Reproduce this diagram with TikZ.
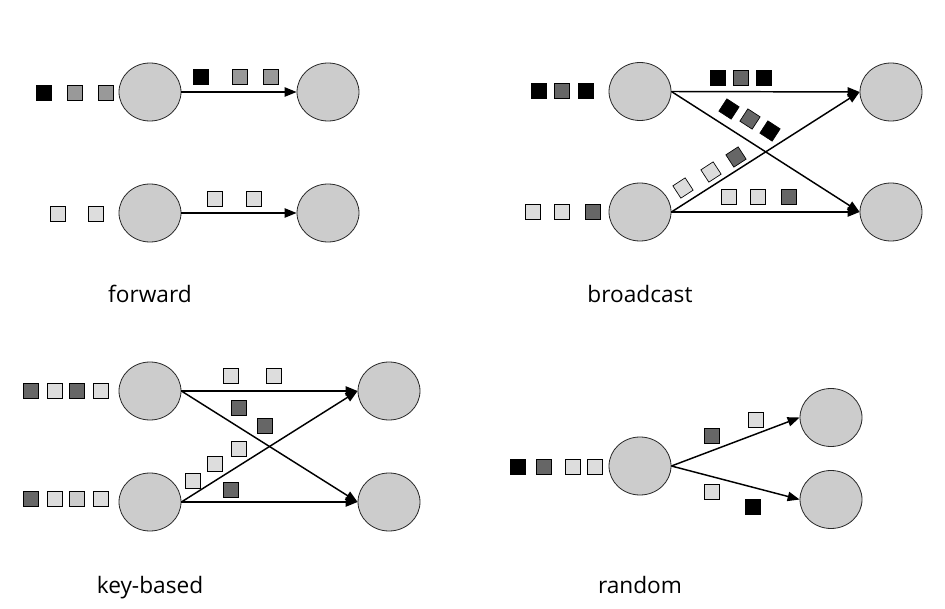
\documentclass[tikz,border=0pt]{standalone}
\usepackage{fontspec}
\setmainfont{Open Sans}
\usetikzlibrary{shapes.geometric,arrows.meta}

\begin{document}
\begin{tikzpicture}[x=0.75pt,y=0.75pt,yscale=-1,xscale=1,
    proc/.style={ellipse,draw={rgb, 255:red, 40; green, 40; blue, 40},fill={rgb, 255:red, 204; green, 204; blue, 204},minimum width=46.5pt,minimum height=43.5pt,inner sep=0pt,line width=0.6pt},
    tup/.style={draw,minimum size=11pt,inner sep=0pt,line width=0.5pt},
    sqblack/.style={tup,fill=black},
    sqmid/.style={tup,fill={rgb, 255:red, 153; green, 153; blue, 153}},
    sqdark/.style={tup,fill={rgb, 255:red, 102; green, 102; blue, 102}},
    sqlight/.style={tup,fill={rgb, 255:red, 221; green, 221; blue, 221}},
    sqgray/.style={tup,fill={rgb, 255:red, 204; green, 204; blue, 204}},
    flow/.style={-{Triangle[length=9pt,width=7pt]},line width=1.1pt},
    caption/.style={anchor=base,font=\fontsize{17}{20}\selectfont}]
        \path[use as bounding box] (0,0) rectangle (945,609); %set diagram size 945 x 609

        %Shape: Ellipse (forward)
        \node[proc] (fwA) at (150,92) {};
        \node[proc] (fwB) at (328,92) {};
        \node[proc] (fwC) at (150,213) {};
        \node[proc] (fwD) at (328,213) {};
        %Straight Lines
        \draw[flow] (fwA.east) -- (fwB.west);
        \draw[flow] (fwC.east) -- (fwD.west);
        %Shape: Square
        \node[sqblack] (fwq1) at (44,93) {};
        \node[sqmid] (fwq2) at (75,93) {};
        \node[sqmid] (fwq3) at (106,93) {};
        \node[sqblack] (fwm1) at (201,77) {};
        \node[sqmid] (fwm2) at (240,77) {};
        \node[sqmid] (fwm3) at (271,77) {};
        \node[sqlight] (fwq4) at (58,214) {};
        \node[sqlight] (fwq5) at (96,214) {};
        \node[sqlight] (fwm4) at (215,199) {};
        \node[sqlight] (fwm5) at (254,199) {};
        %Text
        \node[caption] (fwlabel) at (150,303) {forward};

        %Shape: Ellipse (broadcast)
        \node[proc] (bcA) at (640,91.5) {};
        \node[proc] (bcB) at (891,92) {};
        \node[proc] (bcC) at (640,212) {};
        \node[proc] (bcD) at (891,212) {};
        %Straight Lines
        \draw[flow] (bcA.east) -- (bcB.west);
        \draw[flow] (bcA.east) -- (bcD.west);
        \draw[flow] (bcC.east) -- (bcB.west);
        \draw[flow] (bcC.east) -- (bcD.west);
        %Shape: Square
        \node[sqblack] (bcq1) at (539,91) {};
        \node[sqdark] (bcq2) at (562,91) {};
        \node[sqblack] (bcq3) at (586,91) {};
        \node[sqlight] (bcq4) at (533,212) {};
        \node[sqlight] (bcq5) at (562,212) {};
        \node[sqdark] (bcq6) at (593,212) {};
        \node[sqblack] (bcm1) at (718,78) {};
        \node[sqdark] (bcm2) at (741,78) {};
        \node[sqblack] (bcm3) at (764,78) {};
        \node[sqlight] (bcm4) at (729,197) {};
        \node[sqlight] (bcm5) at (758,197) {};
        \node[sqdark] (bcm6) at (789,197) {};
        \node[sqblack,rotate=-33] (bcd1) at (729,109) {};
        \node[sqdark,rotate=-33] (bcd2) at (750,119) {};
        \node[sqblack,rotate=-33] (bcd3) at (770,131) {};
        \node[sqlight,rotate=33] (bcu1) at (683,188) {};
        \node[sqlight,rotate=33] (bcu2) at (711,172) {};
        \node[sqdark,rotate=33] (bcu3) at (736,157) {};
        %Text
        \node[caption] (bclabel) at (640,303) {broadcast};

        %Shape: Ellipse (key-based)
        \node[proc] (kbA) at (150,391) {};
        \node[proc] (kbB) at (389,391) {};
        \node[proc] (kbC) at (150,502) {};
        \node[proc] (kbD) at (389,502) {};
        %Straight Lines
        \draw[flow] (kbA.east) -- (kbB.west);
        \draw[flow] (kbA.east) -- (kbD.west);
        \draw[flow] (kbC.east) -- (kbB.west);
        \draw[flow] (kbC.east) -- (kbD.west);
        %Shape: Square
        \node[sqdark] (kbq1) at (31,390.5) {};
        \node[sqlight] (kbq2) at (54.5,390.5) {};
        \node[sqdark] (kbq3) at (77,390.5) {};
        \node[sqlight] (kbq4) at (101,390.5) {};
        \node[sqdark] (kbq5) at (31,499) {};
        \node[sqlight] (kbq6) at (54.5,499) {};
        \node[sqgray] (kbq7) at (77,499) {};
        \node[sqlight] (kbq8) at (101,499) {};
        \node[sqlight] (kbm1) at (231,376) {};
        \node[sqlight] (kbm2) at (274,376) {};
        \node[sqdark] (kbm3) at (239,408) {};
        \node[sqdark] (kbm4) at (265,426) {};
        \node[sqlight] (kbm5) at (239,449) {};
        \node[sqlight] (kbm6) at (215,464) {};
        \node[sqlight] (kbm7) at (193,481) {};
        \node[sqdark] (kbm8) at (231,490) {};
        %Text
        \node[caption] (kblabel) at (150,593) {key-based};

        %Shape: Ellipse (random)
        \node[proc] (rdA) at (640,466) {};
        \node[proc] (rdB) at (831,417.5) {};
        \node[proc] (rdC) at (831,499.5) {};
        %Straight Lines
        \draw[flow] (rdA.east) -- (rdB.west);
        \draw[flow] (rdA.east) -- (rdC.west);
        %Shape: Square
        \node[sqblack] (rdq1) at (518,466.5) {};
        \node[sqdark] (rdq2) at (544,466.5) {};
        \node[sqlight] (rdq3) at (573,466.5) {};
        \node[sqlight] (rdq4) at (595,466.5) {};
        \node[sqdark] (rdm1) at (712,436) {};
        \node[sqlight] (rdm2) at (756,420) {};
        \node[sqlight] (rdm3) at (712,492) {};
        \node[sqblack] (rdm4) at (753,507) {};
        %Text
        \node[caption] (rdlabel) at (640,593) {random};

    \end{tikzpicture}
\end{document}
